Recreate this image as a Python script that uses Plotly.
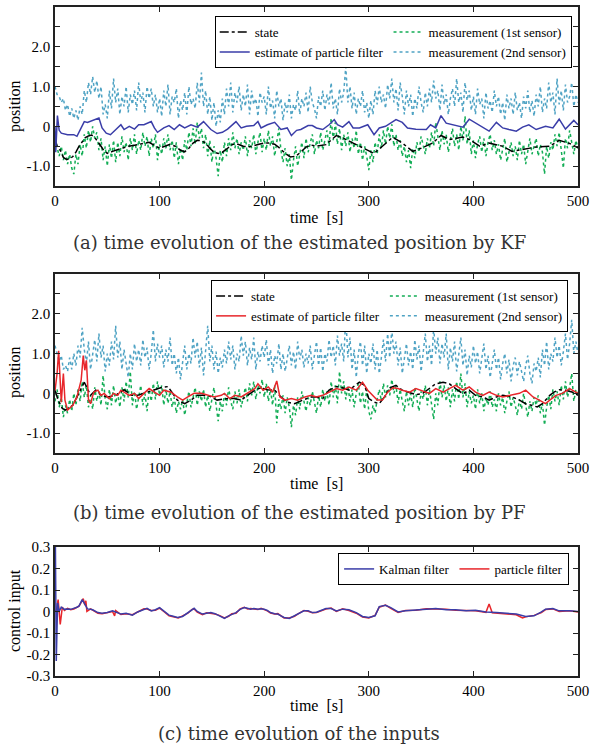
import plotly.graph_objects as go

# ---------------- data ----------------
T2 = list(range(0, 501, 2))  # measurement sample times [s]

# (a) Kalman filter panel
state_a_t = [0, 2, 5, 8, 11, 14, 17, 20, 23, 26, 29, 32, 35, 38, 41, 44, 47, 50, 55, 60, 65, 70, 75, 80, 85, 90, 95, 100,
             105, 110, 115, 120, 124, 128, 132, 136, 140, 144, 148, 152, 156, 160, 165, 170, 175, 180, 185, 190, 195,
             200, 205, 210, 215, 220, 225, 230, 235, 240, 245, 250, 259, 269, 275, 285, 294, 305, 313, 323, 332, 342,
             351, 361, 369, 377, 390, 396, 406, 415, 428, 437, 447, 460, 473, 482, 492, 500]
state_a = [-0.3, -0.5, -0.6, -0.78, -0.83, -0.82, -0.76, -0.65, -0.5, -0.38, -0.28, -0.24, -0.22, -0.28, -0.38, -0.5,
           -0.62, -0.68, -0.63, -0.58, -0.55, -0.5, -0.48, -0.45, -0.42, -0.4, -0.48, -0.55, -0.5, -0.45, -0.5, -0.6,
           -0.64, -0.55, -0.42, -0.35, -0.36, -0.42, -0.55, -0.65, -0.68, -0.65, -0.55, -0.45, -0.45, -0.5, -0.52,
           -0.48, -0.45, -0.42, -0.42, -0.45, -0.55, -0.68, -0.77, -0.75, -0.65, -0.52, -0.47, -0.5, -0.46, -0.23,
           -0.29, -0.42, -0.54, -0.68, -0.5, -0.27, -0.42, -0.63, -0.54, -0.42, -0.23, -0.33, -0.27, -0.33, -0.5,
           -0.42, -0.5, -0.63, -0.58, -0.52, -0.5, -0.35, -0.43, -0.54]

kf_a_t = [0, 0.7, 2.3, 4, 6, 12, 18, 21, 25, 28, 31, 36, 39, 42, 45, 49, 53, 60, 63, 66, 71, 76, 80, 85, 92, 95, 98, 104,
          109, 114, 119, 124, 130, 136, 142, 149, 155, 160, 165, 173, 178, 183, 190, 194, 197, 203, 210, 216, 222, 226,
          231, 235, 242, 246, 250, 256, 262, 267, 270, 275, 281, 285, 291, 299, 305, 310, 316, 326, 332, 337, 345, 355,
          359, 364, 369, 374, 380, 390, 396, 402, 409, 415, 422, 428, 434, 441, 447, 453, 460, 469, 476, 482, 488, 496,
          500]
kf_a = [0.0, -0.65, 0.27, -0.1, -0.17, -0.21, -0.21, -0.25, -0.04, 0.12, 0.1, 0.15, 0.17, 0.21, -0.04, -0.17, -0.21,
        -0.04, 0.04, -0.08, 0.0, -0.07, 0.04, 0.04, 0.12, -0.04, -0.15, -0.04, 0.02, -0.08, 0.04, -0.04, 0.04, -0.02,
        0.12, -0.08, -0.18, -0.15, -0.07, 0.12, -0.04, 0.0, 0.02, 0.12, -0.04, 0.04, 0.1, -0.08, -0.04, -0.23, -0.1,
        -0.08, 0.02, 0.02, -0.04, -0.08, 0.04, 0.17, 0.04, -0.02, 0.12, -0.04, -0.04, 0.04, -0.21, -0.04, 0.0, 0.17,
        0.1, -0.04, -0.07, -0.08, 0.04, -0.04, 0.27, 0.08, 0.04, -0.02, 0.18, 0.08, -0.04, -0.12, 0.1, -0.04, -0.08,
        -0.12, -0.02, 0.04, -0.08, 0.0, -0.04, 0.18, -0.07, 0.15, 0.04]

meas1_a = [-0.3, -0.55, -0.75, -0.5, -0.85, -0.6, -0.95, -0.7, -1.05, -1.2,
           -0.7, -0.95, -0.45, -0.75, -0.2, -0.55, -0.1, -0.4, 0.0, -0.3,
           -0.15, -0.6, -0.3, -0.85, -0.5, -1.0, -0.45, -0.8, -0.35, -0.9,
           -0.4, -0.75, -0.25, -0.65, -0.4, -0.85, -0.3, -0.6, -0.2, -0.7,
           -0.35, -0.6, -0.15, -0.5, -0.25, -0.75, -0.3, -0.55, -0.2, -0.85,
           -0.45, -0.7, -0.3, -0.55, -0.2, -0.6, -0.35, -0.8, -0.4, -0.95,
           -0.55, -0.85, -0.35, -0.6, -0.15, -0.5, -0.05, -0.45, 0.1, -0.3,
           -0.05, -0.55, -0.2, -0.75, -0.35, -0.9, -0.5, -0.8, -1.25, -0.6,
           -0.9, -0.4, -0.75, -0.3, -0.6, -0.15, -0.55, -0.3, -0.7, -0.4,
           -0.6, -0.25, -0.75, -0.35, -0.55, -0.2, -0.7, -0.4, -0.15, -0.65,
           -0.3, -0.6, -0.1, -0.5, -0.25, -0.75, -0.4, -0.05, -0.6, -0.9,
           -0.55, -1.0, -0.7, -1.35, -0.85, -0.5, -1.0, -0.65, -0.4, -0.8,
           -0.3, -0.65, -0.45, -0.2, -0.7, -0.35, -0.55, -0.15, -0.6, -0.3,
           -0.1, -0.5, 0.2, -0.35, 0.1, -0.45, -0.05, -0.6, -0.2, -0.5,
           -0.15, -0.65, -0.3, -0.55, -0.1, -0.7, -0.4, -0.85, -0.5, -0.75,
           -1.1, -0.6, -0.9, -0.4, -0.7, -0.2, -0.55, -0.1, -0.45, 0.0,
           -0.3, 0.05, -0.5, -0.2, -0.6, -0.35, -0.75, -0.5, -0.9, -0.6,
           -1.05, -0.55, -0.8, -0.4, -0.65, -0.25, -0.5, -0.7, -0.3, -0.55,
           -0.15, -0.5, 0.1, -0.3, -0.6, -0.1, -0.45, -0.2, -0.65, -0.35,
           -0.05, -0.5, -0.2, -0.6, 0.0, -0.35, 0.25, -0.45, -0.1, -0.7,
           -0.35, -0.8, -0.45, -0.25, -0.65, -0.3, -0.75, -0.4, -0.2, -0.6,
           -0.35, -0.7, -0.45, -0.85, -0.55, -0.3, -0.9, -0.6, -0.4, -0.75,
           -0.5, -0.85, -0.35, -0.7, -0.45, -0.95, -0.6, -0.3, -0.7, -0.5,
           -0.3, -0.75, -0.45, -0.65, -1.2, -0.5, -0.8, -0.4, -0.6, -0.2,
           -0.5, -0.15, -0.65, -1.05, -0.3, -0.55, -0.1, -0.45, -0.7, -0.35,
           -0.55]

meas2_a = [1.0, 0.8, 0.75, 0.6, 0.7, 0.4, 0.55, 0.25, 0.45, 0.2,
           0.4, 0.15, 0.5, 0.3, 0.9, 0.6, 1.1, 0.8, 1.25, 0.85,
           1.15, 0.7, 1.0, 0.3, 0.55, 0.2, 0.9, 0.45, 1.2, 0.6,
           0.95, 0.3, 0.75, 0.5, 1.0, 0.35, 0.8, 0.55, 0.9, 0.4,
           1.1, 0.6, 0.85, 0.35, 1.0, 0.7, 0.95, 0.5, 0.8, 0.35,
           0.7, 0.25, 0.9, 0.5, 1.05, 0.3, 0.75, 0.6, 0.95, 0.2,
           0.65, 0.4, 0.85, 0.3, 1.0, 0.55, 0.7, 0.45, 1.1, 0.6,
           1.35, 0.5, 0.9, 0.3, 0.75, 0.15, 0.6, 0.0, 0.4, 0.1,
           0.7, 0.3, 0.95, 0.5, 1.1, 0.35, 0.85, 0.6, 1.0, 0.4,
           0.8, 0.5, 1.05, 0.3, 0.9, 0.55, 0.7, 0.25, 0.85, 0.6,
           0.75, 0.3, 1.0, 0.45, 0.65, 0.2, 0.9, 0.5, 0.7, 0.15,
           0.6, 0.35, 0.8, 0.2, 0.55, 0.4, 0.9, 0.3, 0.7, 0.5,
           0.85, 0.35, 1.0, 0.6, 0.45, 0.2, 0.75, 0.5, 0.9, 0.4,
           0.8, 0.55, 1.1, 0.45, 0.7, 0.3, 0.95, 0.6, 0.85, 1.5,
           0.6, 1.0, 0.45, 0.85, 0.3, 0.7, 0.5, 0.9, 0.35, 0.6,
           0.2, 0.65, 0.3, 0.9, 0.55, 1.0, 0.6, 0.8, 0.45, 1.05,
           0.7, 1.2, 0.6, 0.95, 0.4, 1.1, 0.75, 0.3, 0.9, 0.5,
           0.8, 0.25, 0.7, 0.45, 1.0, 0.6, 0.35, 0.85, 0.5, 0.95,
           0.6, 1.15, 0.7, 0.9, 0.4, 1.05, 0.55, 0.8, 0.3, 0.7,
           0.95, 0.5, 1.2, 0.6, 0.85, 0.35, 1.1, 0.65, 0.9, 0.4,
           0.75, 0.3, 0.95, 0.55, 0.7, 0.2, 0.85, 0.45, 0.65, 0.35,
           0.9, 0.5, 0.75, 0.3, 0.6, 0.15, 0.8, 0.45, 0.7, 0.3,
           0.85, 0.4, 0.6, 0.2, 0.75, 0.45, 0.9, 0.35, 0.65, 0.25,
           0.8, 0.5, 1.0, 0.35, 0.7, 0.45, 1.1, 0.6, 0.85, 0.3,
           1.2, 0.55, 0.9, 0.4, 1.05, 0.6, 0.75, 1.1, 0.5, 0.8,
           0.6]

# (b) particle filter panel
state_b_t = [0, 3, 7, 10, 17, 21, 25, 28, 31, 34, 39, 44, 50, 58, 66, 73, 79, 88, 95, 101, 108, 117, 124, 130, 136, 146,
             155, 165, 171, 178, 184, 191, 197, 203, 210, 216, 222, 229, 237, 245, 250, 256, 262, 269, 275, 281, 291,
             296, 300, 305, 310, 315, 320, 326, 332, 339, 345, 351, 358, 364, 371, 377, 383, 390, 396, 402, 409, 415,
             422, 428, 437, 444, 450, 457, 461, 466, 473, 477, 482, 488, 495, 500]
state_b = [0.08, -0.17, -0.38, -0.42, -0.3, -0.09, 0.16, 0.28, 0.12, -0.05, 0.08, -0.05, -0.09, -0.05, 0.09, -0.05,
           -0.05, 0.03, 0.09, 0.14, 0.17, -0.17, -0.26, -0.17, -0.05, -0.05, -0.17, -0.13, -0.13, -0.17, -0.05, 0.08,
           0.14, 0.09, 0.08, -0.09, -0.22, -0.26, -0.17, -0.09, -0.09, -0.13, 0.08, 0.17, 0.14, 0.08, 0.28, 0.2,
           -0.13, -0.22, -0.26, -0.09, 0.14, 0.2, 0.08, 0.01, -0.03, -0.01, 0.12, 0.24, 0.28, 0.24, 0.12, -0.01, 0.08,
           -0.05, -0.09, -0.17, -0.09, -0.05, -0.09, -0.17, -0.26, -0.32, -0.34, -0.26, -0.05, 0.03, 0.09, 0.08,
           0.03, -0.05]

pf_b_t = [0, 2, 3.5, 6, 8, 9.5, 12, 17, 21, 25, 27, 28.5, 30, 32, 34, 37, 41, 44, 47, 52, 56, 60, 63, 66, 71, 76, 80, 85,
          90, 95, 100, 104, 111, 117, 122, 127, 133, 140, 146, 152, 159, 162, 167, 172, 178, 184, 191, 194, 199, 204,
          208, 212, 215, 220, 226, 232, 239, 245, 250, 256, 262, 269, 275, 281, 288, 294, 299, 304, 308, 313, 318, 323,
          328, 332, 339, 345, 351, 358, 364, 371, 377, 383, 390, 396, 402, 409, 415, 422, 428, 437, 444, 450, 457, 463,
          469, 473, 479, 485, 492, 500]
pf_b = [0.07, 0.5, 1.07, -0.22, 0.5, -0.17, -0.42, -0.3, -0.09, 0.33, 0.95, 0.58, 0.83, -0.17, -0.26, 0.03, 0.08,
        -0.05, 0.0, -0.13, 0.0, -0.05, 0.08, 0.03, -0.05, 0.0, -0.13, 0.0, 0.12, 0.03, -0.05, 0.08, 0.03, -0.09, -0.17,
        -0.09, 0.0, 0.0, -0.05, -0.09, -0.05, 0.0, -0.13, -0.05, -0.09, 0.0, 0.12, 0.24, 0.08, 0.16, 0.03, 0.31,
        -0.09, -0.17, -0.13, -0.17, -0.09, -0.05, -0.09, -0.05, 0.03, 0.12, 0.08, 0.16, 0.08, 0.28, 0.08, -0.05, -0.17,
        -0.17, 0.03, 0.14, 0.12, 0.08, 0.03, 0.12, 0.06, 0.0, 0.12, 0.03, 0.12, 0.2, 0.08, 0.16, 0.03, -0.05, 0.03,
        -0.05, -0.09, -0.05, 0.0, 0.08, -0.09, -0.17, -0.26, -0.17, -0.05, 0.0, 0.12, 0.0]

meas1_b = [-0.2, 0.1, -0.35, -0.1, -0.6, -0.3, -0.5, -0.15, -0.45, 0.0,
           -0.3, 0.1, -0.2, 0.3, -0.1, 0.2, -0.35, -0.05, -0.4, 0.15,
           -0.2, 0.05, -0.3, 0.45, -0.15, -0.4, 0.1, -0.3, 0.2, -0.25,
           0.0, -0.35, 0.15, -0.2, 0.3, -0.1, 0.55, -0.3, 0.05, -0.4,
           -0.1, 0.2, -0.3, 0.0, -0.45, 0.1, -0.2, 0.25, -0.15, 0.3,
           -0.05, 0.2, -0.3, 0.1, -0.25, 0.05, -0.35, -0.1, -0.5, -0.2,
           -0.4, -0.15, -0.55, -0.2, 0.05, -0.35, -0.1, 0.15, -0.3, 0.05,
           -0.2, 0.1, -0.35, -0.05, -0.45, -0.15, 0.15, -0.3, -0.7, -0.2,
           -0.45, 0.0, -0.3, 0.15, -0.2, -0.4, 0.05, -0.25, 0.1, -0.35,
           -0.1, 0.15, -0.2, 0.25, -0.05, 0.3, -0.15, 0.2, 0.0, 0.35,
           -0.1, 0.25, -0.2, 0.1, -0.3, 0.2, -0.75, -0.15, -0.4, -0.05,
           -0.5, -0.1, -0.35, -0.85, -0.3, -0.55, -0.1, -0.4, 0.05, -0.25,
           -0.45, -0.1, -0.3, 0.05, -0.25, -0.5, -0.05, -0.35, 0.1, -0.2,
           0.05, -0.3, 0.3, -0.1, 0.2, -0.25, 0.55, 0.0, 0.3, -0.15,
           0.2, -0.2, 0.1, -0.35, 0.0, 0.25, -0.25, 0.05, -0.4, 0.1,
           -0.45, -0.65, -0.3, -0.5, -0.15, 0.1, -0.2, 0.25, -0.1, 0.2,
           -0.05, 0.35, 0.0, 0.2, -0.25, 0.1, -0.2, -0.45, 0.05, -0.3,
           0.0, -0.35, 0.15, -0.2, -0.45, 0.05, -0.15, 0.2, -0.3, 0.1,
           -0.25, -0.65, 0.0, -0.3, 0.3, -0.1, 0.2, -0.2, 0.15, -0.35,
           0.1, -0.2, 0.3, -0.15, 0.5, -0.1, 0.25, -0.35, 0.05, -0.25,
           -0.05, -0.4, 0.1, -0.25, 0.0, -0.45, -0.1, -0.3, 0.05, -0.35,
           -0.15, -0.45, 0.0, -0.3, -0.1, -0.5, -0.2, 0.05, -0.35, -0.1,
           -0.3, -0.55, -0.15, -0.4, 0.0, -0.35, -0.6, -0.2, -0.45, -0.1,
           -0.3, -0.05, -0.5, -0.25, -0.8, -0.35, -0.05, -0.4, 0.1, -0.2,
           0.05, -0.3, 0.2, -0.15, 0.3, -0.1, 0.15, 0.5, -0.2, 0.1,
           -0.05]

meas2_b = [1.2, 1.0, 0.8, 0.95, 0.6, 0.7, 0.55, 0.9, 0.6, 1.0,
           0.7, 1.2, 0.9, 1.65, 1.1, 0.75, 1.3, 0.6, 1.0, 1.35,
           0.8, 1.5, 0.9, 1.2, 0.55, 1.0, 0.7, 1.3, 0.85, 1.7,
           0.9, 1.3, 0.6, 1.1, 0.75, 0.4, 1.0, 0.6, 1.25, 0.8,
           1.1, 0.7, 1.35, 0.9, 1.15, 0.6, 1.0, 1.6, 0.8, 1.25,
           0.9, 1.2, 0.65, 1.1, 0.8, 1.4, 0.7, 1.0, 0.5, 0.9,
           0.35, 0.8, 1.2, 0.6, 1.0, 0.75, 1.4, 0.9, 1.3, 0.65,
           1.15, 0.45, 1.0, 1.7, 0.8, 1.2, 0.6, 1.05, 0.5, 0.9,
           0.65, 1.1, 0.75, 1.3, 0.85, 1.2, 0.6, 1.0, 0.8, 1.45,
           0.95, 1.3, 0.7, 1.15, 0.85, 1.4, 0.6, 1.05, 0.8, 1.2,
           0.9, 1.35, 0.7, 1.1, 0.5, 0.95, 0.75, 1.25, 0.6, 1.0,
           0.55, 0.9, 1.2, 0.7, 1.05, 0.6, 1.3, 0.85, 1.1, 0.65,
           1.0, 0.75, 1.2, 0.6, 0.95, 1.3, 0.7, 1.15, 0.55, 1.0,
           0.8, 1.35, 0.9, 1.2, 0.7, 1.45, 0.95, 1.25, 0.8, 1.95,
           0.9, 1.4, 0.6, 1.1, 0.4, 1.0, 1.3, 0.7, 1.2, 0.5,
           1.0, 0.75, 1.25, 0.6, 1.1, 0.5, 0.9, 1.35, 0.8, 1.5,
           0.9, 1.6, 1.0, 1.3, 0.7, 1.15, 0.5, 0.95, 1.25, 0.7,
           1.05, 0.6, 1.35, 0.85, 1.2, 0.55, 1.0, 1.5, 0.8, 1.2,
           0.7, 1.65, 1.0, 1.4, 0.75, 1.25, 0.9, 1.5, 0.6, 1.15,
           0.8, 1.3, 0.55, 1.0, 1.4, 0.7, 1.1, 0.45, 0.95, 0.65,
           1.2, 0.75, 1.05, 0.5, 0.9, 1.25, 0.6, 0.95, 0.4, 0.8,
           1.1, 0.6, 0.9, 0.35, 0.75, 1.0, 0.5, 0.85, 0.3, 0.7,
           0.9, 0.45, 0.8, 0.55, 0.3, 0.7, 0.95, 0.5, 0.25, 0.75,
           0.55, 0.9, 0.4, 1.1, 0.7, 1.3, 0.6, 1.0, 0.8, 1.4,
           0.9, 1.2, 0.7, 1.05, 1.5, 0.85, 1.25, 1.85, 1.0, 1.3,
           1.0]

# (c) control inputs
kf_u_t = [0, 0.4, 1.2, 2.5, 4, 6, 9, 12, 15, 18, 21, 23, 26, 28.5, 31, 34, 36, 41, 45, 50, 55, 58, 63, 68, 74, 79, 85,
          88, 92, 96, 100, 104, 109, 113, 117, 122, 127, 131, 133, 136, 141, 145, 149, 153, 157, 162, 166, 169, 173,
          177, 181, 184, 187, 190, 194, 197, 200, 203, 206, 210, 213, 216, 219, 224, 229, 232, 235, 238, 242, 246,
          250, 259, 264, 269, 275, 281, 288, 294, 300, 306, 310, 316, 321, 328, 335, 345, 355, 364, 374, 383, 393,
          402, 412, 422, 431, 441, 450, 458, 465, 469, 476, 482, 492, 500]
kf_u = [0.3, 0.3, -0.23, 0.04, 0.0, 0.02, 0.01, 0.012, 0.01, 0.014, 0.02, 0.026, 0.055, 0.034, 0.012, 0.01, 0.008,
        -0.005, -0.008, -0.005, 0.003, -0.002, -0.012, -0.008, -0.017, -0.002, 0.011, 0.015, 0.003, 0.008, 0.018,
        0.003, -0.017, -0.022, -0.028, -0.023, -0.005, 0.008, 0.015, 0.0, -0.012, -0.008, -0.005, -0.01, -0.02,
        -0.032, -0.02, -0.012, -0.005, 0.01, 0.018, 0.015, 0.011, 0.014, 0.011, 0.013, 0.011, 0.005, -0.005, -0.01,
        -0.012, -0.02, -0.028, -0.032, -0.02, -0.01, -0.005, 0.003, 0.003, -0.005, -0.003, 0.014, 0.014, 0.003,
        0.011, 0.008, -0.005, -0.023, -0.028, -0.02, 0.023, 0.029, 0.018, -0.002, 0.003, 0.008, 0.011, 0.014, 0.008,
        0.008, 0.003, 0.006, -0.002, -0.005, -0.008, -0.012, -0.023, -0.02, -0.002, 0.011, 0.014, 0.003, 0.003, 0.0]

pf_u_t = [0, 1.5, 3, 5, 7, 9, 12, 15, 18, 21, 23, 27, 28.5, 29.5, 30.5, 34, 36, 41, 45, 50, 55, 57, 58, 63, 68, 74, 79,
          85, 88, 92, 96, 100, 104, 109, 113, 118, 122, 127, 131, 133, 136, 141, 145, 149, 153, 157, 162, 166, 169,
          173, 177, 181, 184, 187, 190, 194, 197, 200, 203, 206, 210, 213, 216, 219, 224, 229, 232, 235, 238, 242,
          246, 250, 259, 264, 269, 275, 281, 288, 294, 300, 306, 310, 316, 321, 328, 335, 345, 355, 364, 374, 383,
          393, 402, 412, 415, 418, 422, 431, 441, 447, 450, 458, 465, 469, 476, 482, 492, 500]
pf_u = [0.0, 0.01, 0.055, -0.06, 0.02, 0.005, 0.015, 0.008, 0.012, 0.018, 0.025, 0.06, 0.03, 0.05, 0.0, 0.012, 0.006,
        -0.008, -0.01, -0.004, 0.0, -0.02, 0.004, -0.014, -0.01, -0.015, -0.004, 0.013, 0.012, 0.005, 0.006, 0.016,
        0.0, -0.02, -0.024, -0.03, -0.02, -0.008, 0.01, 0.012, -0.003, -0.015, -0.006, -0.008, -0.012, -0.018,
        -0.03, -0.022, -0.01, -0.008, 0.012, 0.02, 0.012, 0.014, 0.012, 0.009, 0.015, 0.009, 0.003, -0.007, -0.012,
        -0.01, -0.022, -0.03, -0.03, -0.022, -0.012, -0.003, 0.005, 0.001, -0.006, -0.005, 0.012, 0.016, 0.0,
        0.013, 0.005, -0.008, -0.026, -0.03, -0.018, 0.02, 0.03, 0.015, -0.004, 0.005, 0.006, 0.013, 0.012, 0.01,
        0.006, 0.005, 0.003, -0.004, 0.035, -0.006, -0.008, -0.01, -0.015, -0.03, -0.025, -0.018, -0.005, 0.009,
        0.012, 0.0, 0.004, -0.002]

X_TICKS = [0, 100, 200, 300, 400, 500]
POS_TICKVALS = [-1.5, -1.0, -0.5, 0, 0.5, 1.0, 1.5, 2.0, 2.5, 3.0]
POS_TICKTEXT = ["", "-1.0", "", "0", "", "1.0", "", "2.0", "", ""]
U_TICKVALS = [-0.3, -0.2, -0.1, 0, 0.1, 0.2, 0.3]
U_TICKTEXT = ["-0.3", "-0.2", "-0.1", "0", "0.1", "0.2", "0.3"]

CAPTIONS = ["(a) time evolution of the estimated position by KF",
            "(b) time evolution of the estimated position by PF",
            "(c) time evolution of the inputs"]

# ---------------- styles ----------------
C_STATE = "black"
C_KF = "#3a3da8"
C_PF = "#e8262b"
C_M1 = "#12ad55"
C_M2 = "#4fa3c4"
SERIF = "Liberation Serif, Times New Roman, Times, serif"

fig = go.Figure()


def add(x, y, name, color, dash, width, xa, ya, legend, rank, group=None):
    fig.add_trace(go.Scatter(x=x, y=y, mode="lines", name=name,
                             line=dict(color=color, dash=dash, width=width),
                             xaxis=xa, yaxis=ya, legend=legend, legendrank=rank,
                             legendgroup=group))


# panel (a)
add(T2, meas2_a, "measurement (2nd sensor)", C_M2, "dot", 1.5, "x", "y", "legend", 4, "a2")
add(T2, meas1_a, "measurement (1st sensor)", C_M1, "dot", 1.5, "x", "y", "legend", 3, "a2")
add(state_a_t, state_a, "state", C_STATE, "dashdot", 1.5, "x", "y", "legend", 1, "a1")
add(kf_a_t, kf_a, "estimate of particle filter", C_KF, "solid", 1.5, "x", "y", "legend", 2, "a1")
# panel (b)
add(T2, meas2_b, "measurement (2nd sensor)", C_M2, "dot", 1.5, "x2", "y2", "legend2", 4, "b2")
add(T2, meas1_b, "measurement (1st sensor)", C_M1, "dot", 1.5, "x2", "y2", "legend2", 3, "b2")
add(state_b_t, state_b, "state", C_STATE, "dashdot", 1.5, "x2", "y2", "legend2", 1, "b1")
add(pf_b_t, pf_b, "estimate of particle filter", C_PF, "solid", 1.5, "x2", "y2", "legend2", 2, "b1")
# panel (c)
add(pf_u_t, pf_u, "particle filter", C_PF, "solid", 1.5, "x3", "y3", "legend3", 2)
add(kf_u_t, kf_u, "Kalman filter", C_KF, "solid", 1.5, "x3", "y3", "legend3", 1)

tickfont = dict(family=SERIF, size=15, color="black")
axis_common = dict(showline=True, linecolor="#222", linewidth=1.5, mirror="ticks",
                   ticks="inside", ticklen=5, tickwidth=1, tickcolor="#222", automargin=False,
                   showgrid=False, zeroline=False, tickfont=tickfont)

domains = {"a": [0.7324, 1.0], "b": [0.3333, 0.6009], "c": [0.0, 0.1928]}

layout = dict(
    width=593, height=744,
    margin=dict(l=55, r=15, t=7, b=68, autoexpand=False),
    paper_bgcolor="white", plot_bgcolor="white",
    showlegend=True,
    xaxis=dict(domain=[0, 1], anchor="y", range=[0, 500], tickvals=X_TICKS, **axis_common),
    yaxis=dict(domain=domains["a"], anchor="x", range=[-1.5, 3.0], tickvals=POS_TICKVALS,
               ticktext=POS_TICKTEXT, **axis_common),
    xaxis2=dict(domain=[0, 1], anchor="y2", range=[0, 500], tickvals=X_TICKS, **axis_common),
    yaxis2=dict(domain=domains["b"], anchor="x2", range=[-1.5, 3.0], tickvals=POS_TICKVALS,
                ticktext=POS_TICKTEXT, **axis_common),
    xaxis3=dict(domain=[0, 1], anchor="y3", range=[0, 500], tickvals=X_TICKS, **axis_common),
    yaxis3=dict(domain=domains["c"], anchor="x3", range=[-0.3, 0.3], tickvals=U_TICKVALS,
                ticktext=U_TICKTEXT, **axis_common),
)

legend_common = dict(orientation="h", xanchor="right", yanchor="top", bgcolor="white",
                     bordercolor="black", borderwidth=1, font=dict(family=SERIF, size=13, color="black"),
                     itemwidth=30)
layout["legend"] = dict(x=0.988, y=0.9865, traceorder="grouped", tracegroupgap=14, **legend_common)
layout["legend2"] = dict(x=0.981, y=0.5919, traceorder="grouped", tracegroupgap=14, **legend_common)
layout["legend3"] = dict(x=0.983, y=0.1839, **legend_common)

fig.update_layout(**layout)

# axis titles and captions as annotations (pixel positions converted to paper coords)
PH = 744 - 7 - 68
PW = 593 - 55 - 15


def py(ypix):
    return (744 - 68 - ypix) / PH


def px(xpix):
    return (xpix - 55) / PW


ann = []
title_font = dict(family=SERIF, size=16, color="black")
for yy in (217, 483, 705):
    ann.append(dict(text="time  [s]", x=px(316), y=py(yy), xref="paper", yref="paper",
                    showarrow=False, font=title_font, xanchor="center", yanchor="middle"))
for txt, yy in (("position", 106), ("position", 372), ("control input", 611)):
    ann.append(dict(text=txt, x=px(15), y=py(yy), xref="paper", yref="paper", textangle=-90,
                    showarrow=False, font=title_font, xanchor="center", yanchor="middle"))
cap_font = dict(family="DejaVu Serif", size=18, color="#333")
for cap, yy in zip(CAPTIONS, (243, 512, 733)):
    ann.append(dict(text=cap, x=px(299), y=py(yy), xref="paper", yref="paper", showarrow=False,
                    font=cap_font, xanchor="center", yanchor="middle"))
fig.update_layout(annotations=ann)

fig.write_html("out.html", config={"displayModeBar": False},
               post_script="document.body.style.margin='0';document.body.style.overflow='hidden';")
